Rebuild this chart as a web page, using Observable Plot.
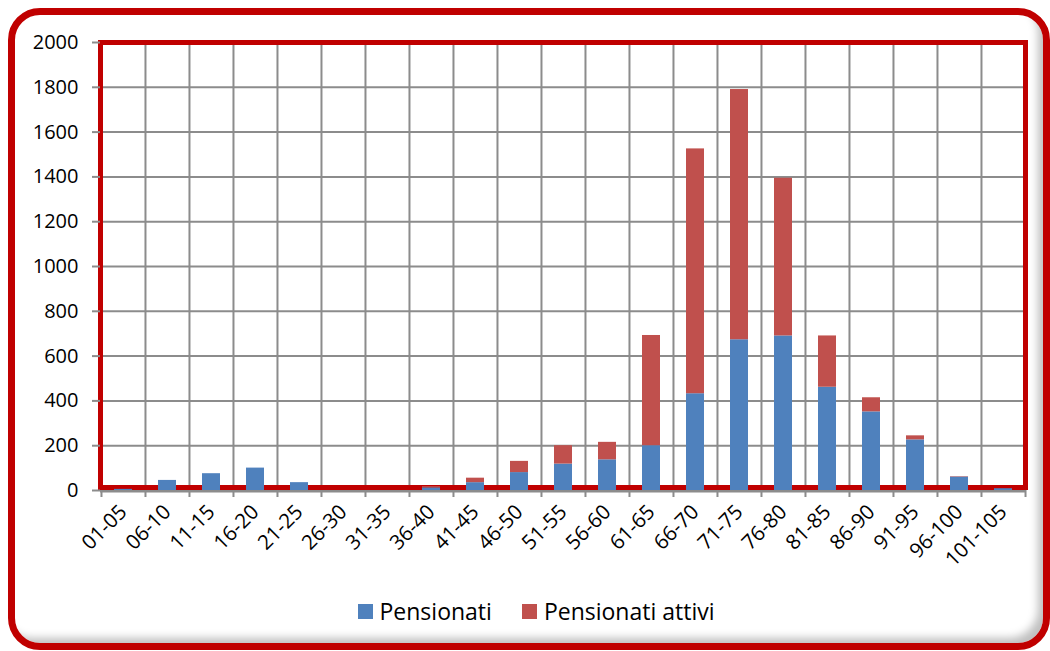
<!DOCTYPE html>
<html>
<head>
<meta charset="utf-8">
<script src="https://cdn.jsdelivr.net/npm/d3@7"></script>
<script src="https://cdn.jsdelivr.net/npm/@observablehq/plot@0.6"></script>
<style>
  html, body { margin: 0; padding: 0; background: #fff; }
  #wrap { position: relative; width: 1050px; height: 651px; overflow: hidden; font-family: "Open Sans", sans-serif; }
  #border { position: absolute; left: 8px; top: 8px; width: 1042px; height: 642px; box-sizing: border-box;
    border: 7px solid #c00000; border-radius: 32px;
    box-shadow: inset -9px -9px 9px -4px rgba(0,0,0,0.25); }
  #chart { position: absolute; left: 0; top: 0; }
  #legend { position: absolute; top: 595px; left: 0; width: 1050px; display: flex; justify-content: center; gap: 30px;
    font-size: 23px; color: #000; padding-left: 22px; box-sizing: border-box; }
  .item { display: flex; align-items: center; gap: 7px; }
  .sw { width: 15px; height: 15px; display: inline-block; }
</style>
</head>
<body>
<div id="wrap">
  <div id="border"></div>
  <div id="chart"></div>
  <div id="legend"></div>
</div>
<script>
const categories = ["01-05","06-10","11-15","16-20","21-25","26-30","31-35","36-40","41-45","46-50","51-55","56-60","61-65","66-70","71-75","76-80","81-85","86-90","91-95","96-100","101-105"];
const pensionati = [5,45,75,100,35,0,0,12,35,80,118,137,200,432,673,690,461,351,226,60,8];
const attivi     = [0,0,0,0,0,0,0,5,20,50,82,78,492,1093,1117,704,229,63,18,2,0];
const seriesNames = ["Pensionati","Pensionati attivi"];
const seriesColors = ["#4f81bd","#c0504d"];
const yTicks = d3.range(0, 2001, 200);

const rows = [];
categories.forEach((c, i) => {
  rows.push({cat: c, series: seriesNames[0], value: pensionati[i]});
  rows.push({cat: c, series: seriesNames[1], value: attivi[i]});
});

const W = 1050, H = 580, mL = 100, mR = 25, mT = 42, mB = 90;
const step = (W - mL - mR) / categories.length;
const gridColor = "#8c8c8c";

const chart = Plot.plot({
  width: W, height: H,
  marginLeft: mL, marginRight: mR, marginTop: mT, marginBottom: mB,
  style: {fontFamily: "Open Sans, sans-serif", color: "#000", background: "transparent"},
  x: {type: "band", domain: categories, padding: 0, label: null},
  y: {domain: [0, 2000], label: null},
  color: {domain: seriesNames, range: seriesColors},
  marks: [
    Plot.gridY({ticks: yTicks, stroke: gridColor, strokeOpacity: 1, strokeWidth: 2}),
    Plot.ruleX(categories, {dx: -step / 2, stroke: gridColor, strokeWidth: 2, insetBottom: -7}),
    Plot.ruleX(categories.slice(-1), {dx: step / 2, stroke: gridColor, strokeWidth: 2, insetBottom: -7}),
    Plot.frame({stroke: "#c00000", strokeWidth: 5, insetBottom: 3}),
    Plot.barY(rows, Plot.stackY({x: "cat", y: "value", fill: "series", insetLeft: 13, insetRight: 13})),
    Plot.ruleY([0], {stroke: gridColor, strokeWidth: 2, dy: 1}),
    Plot.axisY({ticks: yTicks, tickFormat: "d", tickSize: 8, tickPadding: 14, fontSize: 20, stroke: gridColor, strokeWidth: 2, fill: "#000", label: null}),
    Plot.axisX({tickRotate: -45, tickSize: 0, tickPadding: 18, fontSize: 20.5, fill: "#000", label: null})
  ]
});
document.getElementById("chart").appendChild(chart);

const legend = document.getElementById("legend");
seriesNames.forEach((n, i) => {
  const it = document.createElement("div");
  it.className = "item";
  const sw = document.createElement("span");
  sw.className = "sw";
  sw.style.background = seriesColors[i];
  const t = document.createElement("span");
  t.textContent = n;
  it.appendChild(sw); it.appendChild(t);
  legend.appendChild(it);
});
</script>
</body>
</html>
